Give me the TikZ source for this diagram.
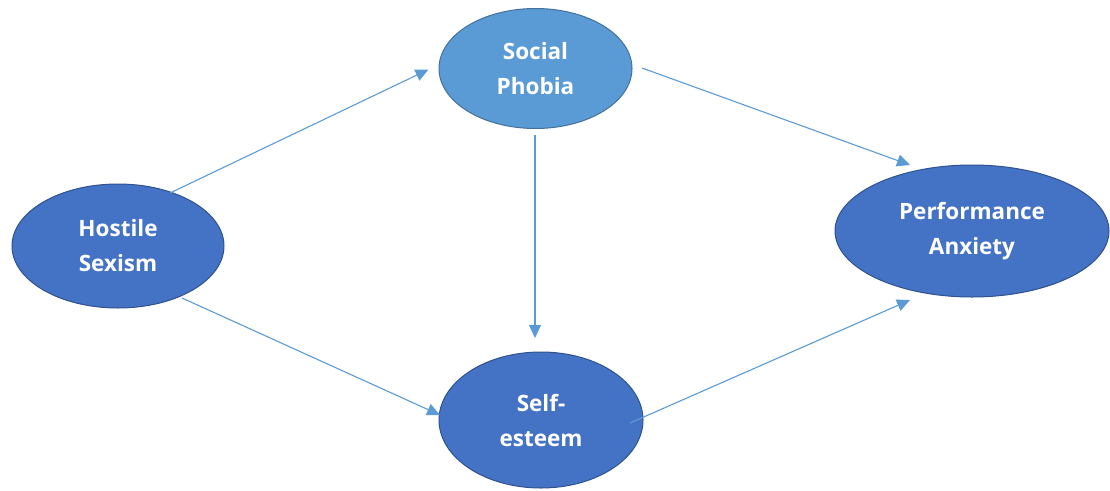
\documentclass[tikz,border=0pt]{standalone}
\usepackage{fontspec}
\setmainfont{Open Sans}
\usetikzlibrary{shapes.geometric,arrows.meta}
\definecolor{darkfill}{HTML}{4472C4}
\definecolor{lightfill}{HTML}{5B9BD5}
\definecolor{darkline}{HTML}{2F528F}
\definecolor{lightline}{HTML}{41719C}
\definecolor{arrcol}{HTML}{5B9BD5}
\tikzset{
  oval/.style={ellipse, draw=darkline, fill=darkfill, line width=1pt, inner sep=0pt,
    text=white, align=center, font=\bfseries\fontsize{22.5}{35}\selectfont},
  lightoval/.style={oval, draw=lightline, fill=lightfill},
  arr/.style={draw=arrcol, line width=1.1pt, -{Triangle[length=13pt,width=12pt]}, arrcol}
}
\begin{document}
\begin{tikzpicture}[x=1pt,y=-1pt]
\useasboundingbox (0,0) rectangle (1110,490);
\node[oval, minimum width=212pt, minimum height=124pt] (hs) at (118,246) {Hostile\\Sexism};
\node[lightoval, minimum width=193pt, minimum height=120pt] (sp) at (535.5,68.5) {Social\\Phobia};
\node[oval, minimum width=204pt, minimum height=136pt] (se) at (541,420) {Self-\\esteem};
\node[oval, minimum width=274pt, minimum height=132pt] (pa) at (972,231) {Performance\\Anxiety};
\draw[arr] ([shift={(52,-53)}]hs.center) -- ([shift={(-107,1)}]sp.center);
\draw[arr] ([shift={(64,52)}]hs.center) -- ([shift={(-101,-5)}]se.center);
\draw[arr] ([shift={(-0.5,66.5)}]sp.center) -- ([shift={(-6,-82)}]se.center);
\draw[arr] ([shift={(106.5,-0.5)}]sp.center) -- ([shift={(-62,-66)}]pa.center);
\draw[arr] ([shift={(89,3)}]se.center) -- ([shift={(-62,69)}]pa.center);
\end{tikzpicture}
\end{document}
